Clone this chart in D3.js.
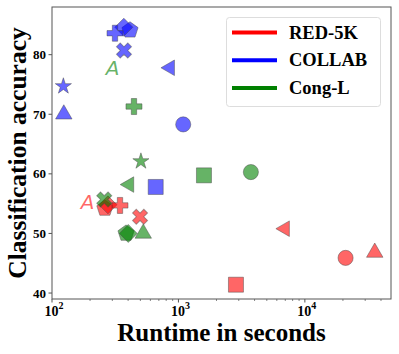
<!DOCTYPE html>
<html>
<head>
<meta charset="utf-8">
<script src="https://cdn.jsdelivr.net/npm/d3@7"></script>
<style>
  body { margin: 0; background: #fff; }
  text { font-family: "Liberation Serif", "Times New Roman", serif; }
</style>
</head>
<body>
<div id="chart"></div>
<script>
// Chart data.
var methods = ["circle", "square", "triLeft", "triUp", "pentagon", "diamond", "star", "cross", "plus", "A"];

var datasets = ["RED-5K", "COLLAB", "Cong-L"];
var colors = ["#ff0000", "#0000ff", "#008000"];

// runtime (s) and accuracy per method, null where the point is absent
var redRuntime = [20990, 2851, 6950, 35700, 262, 277, null, 497, 345, 191];
var redAccuracy = [45.9, 41.4, 50.8, 46.8, 54.2, 54.8, null, 52.8, 54.7, 55.4];

var blueRuntime = [1091, 661, 857, 124, 414, 370, 123, 371, 315, null];
var blueAccuracy = [68.3, 57.8, 77.8, 70.0, 84.1, 84.6, 74.7, 80.7, 83.6, null];

var greenRuntime = [3741, 1592, 408, 527, 385, 401, 505, 259, 445, 302];
var greenAccuracy = [60.3, 59.75, 58.2, 50.0, 50.0, 50.0, 62.1, 55.7, 71.3, 77.8];

var yTicks = [40, 50, 60, 70, 80];
var xTicks = [100, 1000, 10000];

var runtimes = [redRuntime, blueRuntime, greenRuntime];
var accuracies = [redAccuracy, blueAccuracy, greenAccuracy];

// Layout.
var svgWidth = 399;
var svgHeight = 354;
var plot = { left: 52, right: 391, top: 7, bottom: 299 };

var svg = d3.select("#chart")
  .append("svg")
  .attr("width", svgWidth)
  .attr("height", svgHeight);

var x = d3.scaleLog()
  .domain([100, 48000])
  .range([plot.left, plot.right]);

var y = d3.scaleLinear()
  .domain([39, 88])
  .range([plot.bottom, plot.top]);

// Marker paths, centred on 0,0.
function polygon(n, r, rot) {
  var pts = [];
  for (var i = 0; i < n; i++) {
    var a = rot + i * 2 * Math.PI / n;
    pts.push([r * Math.cos(a), r * Math.sin(a)]);
  }
  return "M" + pts.map(p => p[0].toFixed(2) + "," + p[1].toFixed(2)).join("L") + "Z";
}

function star(r) {
  var pts = [];
  for (var i = 0; i < 10; i++) {
    var a = -Math.PI / 2 + i * Math.PI / 5;
    var rr = i % 2 ? r * 0.38 : r;
    pts.push([rr * Math.cos(a), rr * Math.sin(a)]);
  }
  return "M" + pts.map(p => p[0].toFixed(2) + "," + p[1].toFixed(2)).join("L") + "Z";
}

function plusPath(r) {
  var w = r / 3;
  return `M${-w},${-r}H${w}V${-w}H${r}V${w}H${w}V${r}H${-w}V${w}H${-r}V${-w}H${-w}Z`;
}

var shapes = {
  circle: () => d3.symbol(d3.symbolCircle, 180)(),
  square: () => "M-7.5,-7.5H7.5V7.5H-7.5Z",
  triLeft: () => polygon(3, 9, Math.PI),
  triUp: () => polygon(3, 9.5, -Math.PI / 2),
  pentagon: () => polygon(5, 8.5, -Math.PI / 2),
  diamond: () => polygon(4, 9, -Math.PI / 2),
  star: () => star(8.5),
  plus: () => plusPath(8),
  cross: () => plusPath(8)
};

// Axes frame.
svg.append("rect")
  .attr("x", plot.left)
  .attr("y", plot.top)
  .attr("width", plot.right - plot.left)
  .attr("height", plot.bottom - plot.top)
  .attr("fill", "none")
  .attr("stroke", "#555")
  .attr("stroke-width", 1);

// Y axis ticks and labels.
var yAxis = svg.append("g");
yTicks.forEach(function(t) {
  yAxis.append("line")
    .attr("x1", plot.left - 3.5).attr("x2", plot.left)
    .attr("y1", y(t)).attr("y2", y(t))
    .attr("stroke", "#555");
  yAxis.append("text")
    .attr("x", plot.left - 6)
    .attr("y", y(t) + 4.5)
    .attr("text-anchor", "end")
    .attr("font-size", "13px")
    .attr("font-weight", "bold")
    .text(t);
});

// X axis: major and minor ticks on the log scale.
var xAxis = svg.append("g");
x.ticks().forEach(function(t) {
  var major = xTicks.indexOf(t) >= 0;
  xAxis.append("line")
    .attr("x1", x(t)).attr("x2", x(t))
    .attr("y1", plot.bottom).attr("y2", plot.bottom + (major ? 3.5 : 2))
    .attr("stroke", "#555")
    .attr("stroke-width", major ? 1 : 0.7);
});
xTicks.forEach(function(t) {
  var lab = xAxis.append("text")
    .attr("x", x(t) + 2)
    .attr("y", plot.bottom + 17)
    .attr("text-anchor", "middle")
    .attr("font-size", "14px")
    .attr("font-weight", "bold");
  lab.append("tspan").text("10");
  lab.append("tspan")
    .attr("dy", -7)
    .attr("font-size", "10px")
    .text(Math.round(Math.log10(t)));
});

// Axis titles.
svg.append("text")
  .attr("x", (plot.left + plot.right) / 2)
  .attr("y", 341)
  .attr("text-anchor", "middle")
  .attr("font-size", "25px")
  .attr("font-weight", "bold")
  .text("Runtime in seconds");

svg.append("text")
  .attr("transform", `translate(26, ${(plot.top + plot.bottom) / 2}) rotate(-90)`)
  .attr("text-anchor", "middle")
  .attr("font-size", "25.5px")
  .attr("font-weight", "bold")
  .text("Classification accuracy");

// Points, one method at a time so later datasets sit on top.
var points = svg.append("g");
methods.forEach(function(m, mi) {
  datasets.forEach(function(ds, di) {
    var rt = runtimes[di][mi];
    var acc = accuracies[di][mi];
    if (rt == null) return;
    var px = x(rt), py = y(acc);
    if (m === "A") {
      points.append("text")
        .attr("x", px)
        .attr("y", py + 7.5)
        .attr("text-anchor", "middle")
        .style("font-family", "'DejaVu Sans', sans-serif")
        .attr("font-size", "20px")
        .attr("font-style", "italic")
        .attr("fill", colors[di])
        .attr("fill-opacity", 0.6)
        .text("A");
      return;
    }
    var rot = m === "cross" ? 45 : 0;
    points.append("path")
      .attr("d", shapes[m]())
      .attr("transform", `translate(${px},${py}) rotate(${rot})`)
      .attr("fill", colors[di])
      .attr("fill-opacity", 0.6)
      .attr("stroke", "#444")
      .attr("stroke-opacity", 0.45)
      .attr("stroke-width", 1);
  });
});

// Legend.
var legend = svg.append("g");
legend.append("rect")
  .attr("x", 226.5).attr("y", 17.5)
  .attr("width", 154).attr("height", 89)
  .attr("rx", 3)
  .attr("fill", "#fff")
  .attr("fill-opacity", 0.8)
  .attr("stroke", "#ddd");

datasets.forEach(function(ds, i) {
  var ly = 32.5 + i * 27.7;
  legend.append("line")
    .attr("x1", 232).attr("x2", 277)
    .attr("y1", ly).attr("y2", ly)
    .attr("stroke", colors[i])
    .attr("stroke-width", 4);
  legend.append("text")
    .attr("x", 289)
    .attr("y", ly + 6)
    .attr("font-size", "18.5px")
    .attr("font-weight", "bold")
    .text(ds);
});
</script>
</body>
</html>
